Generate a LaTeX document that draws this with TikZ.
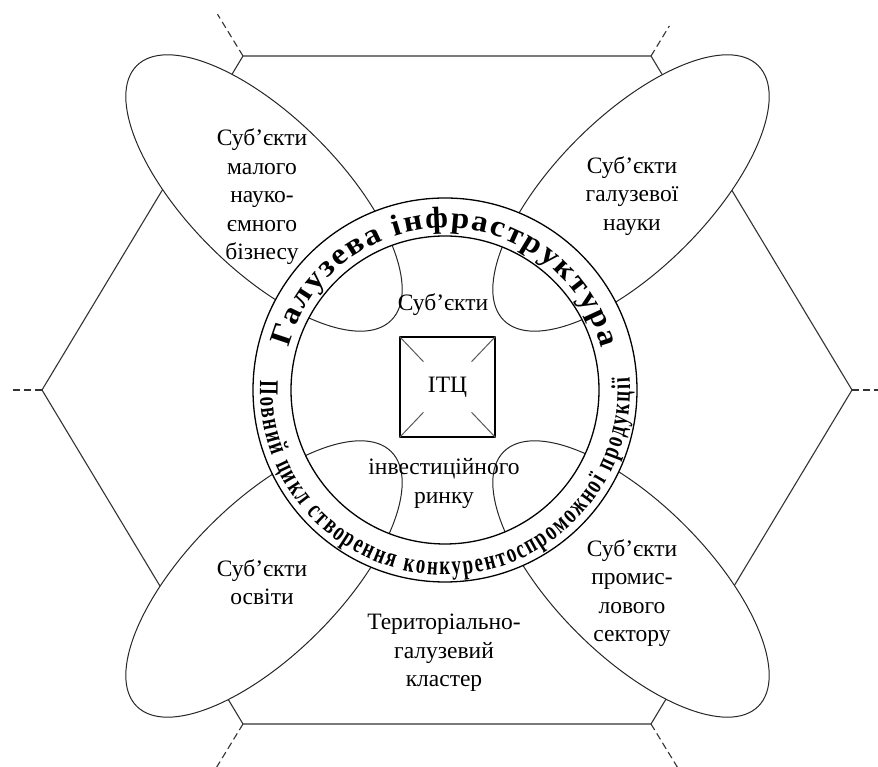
\documentclass[tikz,border=0pt]{standalone}
\usepackage{fontspec}
\setmainfont{Liberation Serif}
\newfontfamily\ringbotfont[FakeStretch=0.7]{Liberation Serif}
\newfontfamily\ringtopfont[FakeStretch=1.1]{Liberation Serif}
\usetikzlibrary{calc,decorations.text}
\newcommand\topringfont{\ringtopfont\fontsize{30}{30}\selectfont\bfseries}
\newcommand\botringfont{\ringbotfont\fontsize{27}{27}\selectfont\bfseries}
\begin{document}
\begin{tikzpicture}[x=1pt,y=1pt,line join=round]
\tikzset{
  hexline/.style={line width=1.1pt,draw=black!80},
  dashline/.style={line width=1.1pt,draw=black!80,dash pattern=on 7pt off 4pt},
  ell/.style={line width=1pt,draw=black!85,fill=white},
  ringline/.style={line width=1.3pt,draw=black},
  lbl/.style={font=\fontsize{23.5}{28.5}\selectfont,align=center,inner sep=0pt},
  stub/.style={line width=1pt,draw=black!65}
}
\useasboundingbox (0,0) rectangle (878,767);
% hexagon
\coordinate (H) at (447,377);
\coordinate (L) at (42,377);
\coordinate (TL) at (243,711);
\coordinate (TR) at (651,711);
\coordinate (R) at (852,377);
\coordinate (BR) at (651,43);
\coordinate (BL) at (243,43);
\draw[hexline] (L) -- (TL) -- (TR) -- (R) -- (BR) -- (BL) -- cycle;
\coordinate (eL) at ($(H)!1.08!(L)$);
\coordinate (eTL) at ($(H)!1.125!(TL)$);
\coordinate (eTR) at ($(H)!1.09!(TR)$);
\coordinate (eR) at ($(H)!1.08!(R)$);
\coordinate (eBR) at ($(H)!1.13!(BR)$);
\coordinate (eBL) at ($(H)!1.13!(BL)$);
\draw[dashline] (L) -- (eL);
\draw[dashline] (TL) -- (eTL);
\draw[dashline] (TR) -- (eTR);
\draw[dashline] (R) -- (eR);
\draw[dashline] (BR) -- (eBR);
\draw[dashline] (BL) -- (eBL);
% ellipses
\draw[ell,shift={(264,574)},rotate=-45] (0,0) ellipse [x radius=180,y radius=76];
\draw[ell,shift={(631,574)},rotate=45] (0,0) ellipse [x radius=180,y radius=76];
\draw[ell,shift={(264,188)},rotate=45] (0,0) ellipse [x radius=180,y radius=76];
\draw[ell,shift={(631,188)},rotate=-45] (0,0) ellipse [x radius=180,y radius=76];
% ring
\coordinate (C) at (445,377);
\fill[white,even odd rule] (C) circle[radius=192] (C) circle[radius=154];
\draw[ringline] (C) circle[radius=192];
\draw[ringline] (C) circle[radius=154];
\path[decorate,decoration={text along path,text={|\topringfont|Галузева інфраструктура},text align=fit to path}]
  (C) ++(165:162) arc[start angle=165,end angle=15,radius=162];
\path[decorate,decoration={text along path,text={|\botringfont|Повний цикл створення конкурентоспроможної продукції},text align=fit to path}]
  (C) ++(177:185) arc[start angle=177,end angle=364,radius=185];
% centre square
\node[draw,line width=1.3pt,minimum width=95,minimum height=100,inner sep=0pt,font=\fontsize{23.5}{28}\selectfont] (sq) at (447.5,380) {ІТЦ};
\draw[stub] (sq.north west) -- ($(sq.north west)!0.25!(sq.south east)$);
\draw[stub] (sq.south east) -- ($(sq.south east)!0.25!(sq.north west)$);
\draw[stub] (sq.north east) -- ($(sq.north east)!0.25!(sq.south west)$);
\draw[stub] (sq.south west) -- ($(sq.south west)!0.25!(sq.north east)$);
% labels
\node[lbl] (tsub) at (443,462) {Суб’єкти};
\node[lbl] (tinv) at (444,283.5) {інвестиційного\\ринку};
\node[lbl] (tTL) at (262,570) {Суб’єкти\\малого\\науко-\\ємного\\бізнесу};
\node[lbl] (tTR) at (632,571) {Суб’єкти\\галузевої\\науки};
\node[lbl] (tBL) at (262,185) {Суб’єкти\\освіти};
\node[lbl] (tBR) at (632,174) {Суб’єкти\\промис-\\лового\\сектору};
\node[lbl] (tcl) at (444,114) {Територіально-\\галузевий\\кластер};
\end{tikzpicture}
\end{document}
